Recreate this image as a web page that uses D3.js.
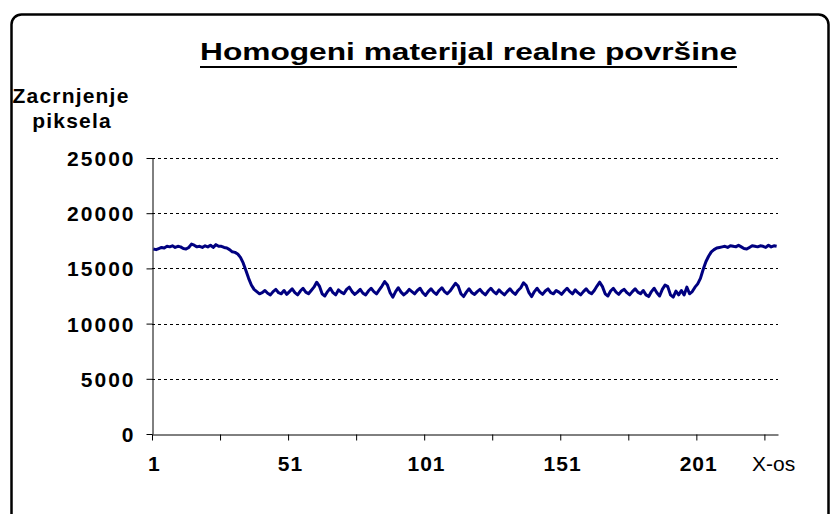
<!DOCTYPE html>
<html><head><meta charset="utf-8">
<script src="https://cdn.jsdelivr.net/npm/d3@7/dist/d3.min.js"></script>
<style>body{margin:0;background:#fff}svg{display:block}</style>
</head><body>
<svg id="c" width="840" height="514"></svg>
<script>
const title = "Homogeni materijal realne površine";
const yTitle = ["Zacrnjenje", "piksela"];
const xTitle = "X-os";
const yTicks = [0, 5000, 10000, 15000, 20000, 25000];
const xLabels = [1, 51, 101, 151, 201];
const plateauStart = [16750,16700,16800,16900,16850,17000,16950,17050,16900,17000,
  16950,16800,16750,16900,17200,17100,16950,17000,16900,17050,
  16950,17100,16900,17150,17000,17000,16900,16850];
const dropDown = [16700,16500,16450,16300,16000,15500,14800,14100,13500,13100];
const middle = [12900,12700,12800,13000,12750,12600,12900,13100,12800,12700,13000,12650,12900,13150,12800,12600,12950,13200,12850,12700,
  13000,13300,13750,13400,12700,12500,12900,13200,12800,12600,13050,12850,12700,13100,13300,12900,12650,12850,13100,12750,
  12600,12950,13200,12900,12700,13050,13400,13800,13500,12800,12400,12900,13250,12850,12600,12800,13100,12900,12700,13000,
  13200,12800,12550,12900,13150,12850,12650,13000,13250,12900,12700,12950,13300,13650,13400,12700,12450,12850,13150,12800,
  12650,12900,13100,12800,12600,12950,13200,12900,12700,13050,12800,12600,12900,13150,12850,12650,13000,13250,13700,13450,
  12800,12450,12900,13200,12850,12650,12950,13150,12800,12700,13000,12850,12650,12950,13200,12900,12700,13050,12800,12600,
  12900,13150,12850,12700,13000,13400,13750,13350,12700,12500,12950,13200,12850,12650,12950,13100,12800,12600,12900,13150,
  12850,12700,13000,12600,12450,12900,13200,12800,12500,13100,13500,13350,12600,12400,12950,12600];
const riseUp = [13000,12600,13300,12700,12900,13300,13600,14100,14900,15600,16100,16500,16700,16850,16900];
const plateauEnd = [16950,17000,16900,17050,17000,16950,17100,16950,16800,16750,16900,17050,17000,16950,17050,17000,16900,17100,16950,17050,17000];
const values = [...plateauStart, ...dropDown, ...middle, ...riseUp, ...plateauEnd];
const N = values.length;

const svg = d3.select("#c");
const font = "'Liberation Sans', Arial, sans-serif";

svg.append("rect").attr("x",11.5).attr("y",14.5).attr("width",817).attr("height",540)
  .attr("rx",10).attr("fill","#fff").attr("stroke","#000").attr("stroke-width",2.5);

const x = d3.scaleLinear().domain([0.5, N + 0.5]).range([152, 778]);
const y = d3.scaleLinear().domain([0, 25000]).range([434, 158]);

// gridlines
svg.append("g").selectAll("line").data(yTicks.filter(d => d > 0)).join("line")
  .attr("x1",152).attr("x2",778).attr("y1",d=>Math.round(y(d))+0.5).attr("y2",d=>Math.round(y(d))+0.5)
  .attr("stroke","#000").attr("stroke-width",1).attr("stroke-dasharray","3,3");

// y axis
const yAxis = svg.append("g").attr("transform","translate(152.5,0)")
  .call(d3.axisLeft(y).tickValues(yTicks).tickSize(6).tickSizeOuter(0).tickPadding(11).tickFormat(d3.format("d")));
yAxis.select(".domain").attr("stroke","#000").attr("stroke-width",1);
yAxis.selectAll("text").attr("font-family",font).attr("font-weight","bold").attr("font-size","21px")
  .attr("letter-spacing","2px").attr("dy","0.36em").attr("fill","#000");

// x axis
const xTickVals = d3.range(0.5, N + 0.5, 25);
const xAxis = svg.append("g").attr("transform","translate(0,434.5)")
  .call(d3.axisBottom(x).tickValues(xTickVals).tickSize(6).tickSizeOuter(0).tickFormat(""));
xAxis.select(".domain").attr("stroke","#000").attr("stroke-width",1);
svg.append("g").selectAll("text").data(xLabels).join("text")
  .attr("x",d=>x(d)+1).attr("y",471).attr("text-anchor","middle").attr("letter-spacing","1px")
  .attr("font-family",font).attr("font-weight","bold").attr("font-size","21px").text(d=>d);
svg.append("text").attr("x",752).attr("y",471).attr("font-family",font).attr("font-size","21px").text(xTitle);

// line
const line = d3.line().x((d,i)=>x(i+1)).y(d=>y(d));
svg.append("path").datum(values).attr("d",line).attr("fill","none")
  .attr("stroke","#000080").attr("stroke-width",3).attr("stroke-linejoin","round");

// title
svg.append("text").attr("x",200).attr("y",60)
  .attr("font-family",font).attr("font-weight","bold").attr("font-size","24px")
  .attr("textLength",537).attr("lengthAdjust","spacingAndGlyphs").text(title);
svg.append("line").attr("x1",200).attr("x2",737).attr("y1",67).attr("y2",67)
  .attr("stroke","#000").attr("stroke-width",2);

// y title
svg.append("g").selectAll("text").data(yTitle).join("text")
  .attr("x",(d,i)=>i?72:71).attr("y",(d,i)=>103+i*25).attr("text-anchor","middle").attr("letter-spacing","1.2px")
  .attr("font-family",font).attr("font-weight","bold").attr("font-size","21px").text(d=>d);
</script>
</body></html>
